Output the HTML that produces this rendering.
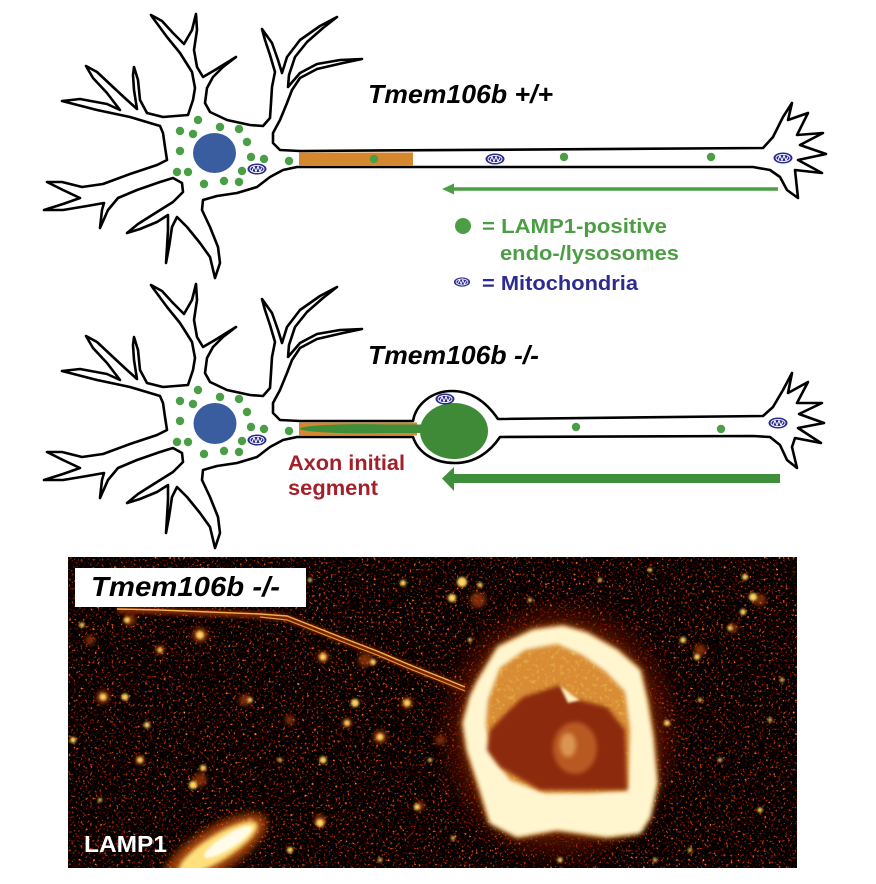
<!DOCTYPE html>
<html><head><meta charset="utf-8">
<style>
html,body{margin:0;padding:0;background:#fff;}
svg{display:block;}
.b{font-family:"Liberation Sans",Arial,sans-serif;font-weight:bold;}
.bi{font-family:"Liberation Sans",Arial,sans-serif;font-weight:bold;font-style:italic;}
</style></head>
<body>
<svg width="876" height="884" viewBox="0 0 876 884" xmlns="http://www.w3.org/2000/svg" xmlns:xlink="http://www.w3.org/1999/xlink">
<defs>
<path id="body" d="M300,167 L297,167 L283,170 L270,177 L257,187 L237,193 L217,196 L203,200 L202,210 L210,227 L218,247 L220,263 L215,278 L210,257 L200,243 L187,227 L177,217 L172,227 L169,247 L166,263 L167,247 L168,230 L168,215 L157,222 L140,229 L127,233 L138,224 L157,212 L173,202 L183,192 L182,183 L173,178 L160,182 L137,190 L118,198 L108,210 L100,228 L102,210 L104,203 L87,206 L63,210 L44,210 L63,204 L80,198 L63,190 L47,182 L62,182 L82,187 L103,184 L130,174 L157,165 L167,160 L165,147 L163,133 L160,126 L130,117 L97,110 L62,101 L80,99 L107,104 L120,110 L107,93 L93,78 L86,66 L97,72 L113,87 L127,100 L137,109 L134,90 L133,75 L134,67 L138,80 L140,100 L147,113 L163,117 L188,115 L193,100 L195,88 L192,72 L180,53 L167,37 L153,18 L151,15 L162,21 L173,33 L184,44 L192,30 L196,14 L197,30 L194,50 L197,67 L203,77 L215,70 L236,57 L223,67 L213,77 L207,88 L205,103 L210,112 L227,120 L250,125 L263,126 L270,118 L271,103 L272,87 L275,72 L270,55 L265,40 L262,29 L272,43 L278,60 L282,73 L287,57 L300,40 L320,26 L337,17 L323,28 L307,42 L295,57 L289,75 L288,87 L300,73 L317,64 L340,60 L362,59 L343,63 L317,69 L300,78 L292,90 L287,103 L280,120 L273,133 L273,143 L280,150 L300,151"/>
<g id="mito">
<ellipse rx="9.5" ry="5.5" fill="#2B2A8E"/>
<ellipse rx="7" ry="3.6" fill="none" stroke="#fff" stroke-width="0.9"/>
<path d="M-5,2 L-3,-2.5 L-1,2.5 L1,-2.5 L3,2.5 L5,-1.5" fill="none" stroke="#fff" stroke-width="1"/>
</g>
<g id="dots" fill="#4A9E46">
<circle cx="198" cy="120" r="4.2"/><circle cx="180" cy="131" r="4.2"/><circle cx="193" cy="134" r="4.2"/>
<circle cx="220" cy="127" r="4.2"/><circle cx="239" cy="129" r="4.2"/><circle cx="247" cy="142" r="4.2"/>
<circle cx="180" cy="151" r="4.2"/><circle cx="251" cy="157" r="4.2"/><circle cx="264" cy="159" r="4.2"/>
<circle cx="177" cy="172" r="4.2"/><circle cx="188" cy="172" r="4.2"/><circle cx="204" cy="184" r="4.2"/>
<circle cx="224" cy="181" r="4.2"/><circle cx="239" cy="182" r="4.2"/><circle cx="242" cy="171" r="4.2"/>
<circle cx="289" cy="161" r="4.2"/>
</g>
<clipPath id="imgclip"><rect x="68" y="557" width="729" height="311"/></clipPath>
<filter id="spk" x="0" y="0" width="1" height="1" color-interpolation-filters="sRGB">
<feTurbulence type="fractalNoise" baseFrequency="0.42" numOctaves="2" seed="7"/>
<feColorMatrix type="matrix" values="1 0 0 0 0  1 0 0 0 0  1 0 0 0 0  0 0 0 0 1"/>
<feComponentTransfer>
<feFuncR type="linear" slope="3.2" intercept="-1.72"/>
<feFuncG type="linear" slope="3" intercept="-1.95"/>
<feFuncB type="linear" slope="2" intercept="-1.45"/>
</feComponentTransfer>
</filter>
<filter id="spk2" x="0" y="0" width="1" height="1" color-interpolation-filters="sRGB">
<feTurbulence type="fractalNoise" baseFrequency="0.25" numOctaves="2" seed="11"/>
<feColorMatrix type="matrix" values="1 0 0 0 0  1 0 0 0 0  1 0 0 0 0  1 0 0 0 -0.35"/>
<feComponentTransfer>
<feFuncR type="linear" slope="2.5" intercept="-0.3"/>
<feFuncG type="linear" slope="2.5" intercept="-0.8"/>
<feFuncB type="linear" slope="1.5" intercept="-0.7"/>
</feComponentTransfer>
</filter>
<filter id="b1" x="-50%" y="-50%" width="200%" height="200%"><feGaussianBlur stdDeviation="1.2"/></filter>
<filter id="b2" x="-20%" y="-20%" width="140%" height="140%"><feGaussianBlur stdDeviation="2.2"/></filter>
<filter id="b4" x="-30%" y="-30%" width="160%" height="160%"><feGaussianBlur stdDeviation="4"/></filter>
<filter id="b12" x="-50%" y="-50%" width="200%" height="200%"><feGaussianBlur stdDeviation="12"/></filter>
<clipPath id="inner"><path d="M488,700 L500,668 L525,650 L557,644 L582,655 L606,672 L625,692 L630,730 L628,790 L590,793 L545,793 L510,780 L492,755 L486,725 Z"/></clipPath>
</defs>

<!-- ===== Neuron 1 ===== -->
<use xlink:href="#body" href="#body" fill="#fff" stroke="#000" stroke-width="2.6" stroke-linejoin="round"/>
<path d="M300,151 L763,148 L773,137 L783,117 L792,103 L788,120 L808,113 L797,135 L823,133 L800,145 L826,154 L798,160 L822,173 L795,170 L798,198 L787,190 L780,177 L770,170 L753,167 L300,167" fill="#fff" stroke="#000" stroke-width="2.6" stroke-linejoin="round"/>
<rect x="299" y="152.5" width="114" height="13.5" fill="#D4872E"/>
<circle cx="374" cy="159" r="4.2" fill="#4A9E46"/>
<ellipse cx="214.5" cy="153" rx="21.5" ry="20" fill="#3A5DA0"/>
<use xlink:href="#dots" href="#dots"/>
<use xlink:href="#mito" href="#mito" x="257" y="169"/>
<use xlink:href="#mito" href="#mito" x="495" y="159"/>
<circle cx="564" cy="157" r="4.2" fill="#4A9E46"/>
<circle cx="711" cy="157" r="4.2" fill="#4A9E46"/>
<use xlink:href="#mito" href="#mito" x="783" y="158"/>

<text class="bi" x="368" y="103" font-size="26" textLength="185" lengthAdjust="spacingAndGlyphs" fill="#000">Tmem106b +/+</text>

<!-- thin arrow -->
<line x1="778" y1="189" x2="452" y2="189" stroke="#4C9E45" stroke-width="3.5"/>
<polygon points="442,189 454,183.5 454,194.5" fill="#4C9E45"/>

<!-- legend -->
<circle cx="463" cy="226" r="8" fill="#4C9E45"/>
<text class="b" x="482" y="233" font-size="20" textLength="185" lengthAdjust="spacingAndGlyphs" fill="#4C9E45">= LAMP1-positive</text>
<text class="b" x="500" y="260" font-size="20" textLength="179" lengthAdjust="spacingAndGlyphs" fill="#4C9E45">endo-/lysosomes</text>
<g transform="translate(462,282) scale(0.85)"><use xlink:href="#mito" href="#mito"/></g>
<text class="b" x="482" y="290" font-size="20" textLength="156" lengthAdjust="spacingAndGlyphs" fill="#2D2B8E">= Mitochondria</text>

<!-- ===== Neuron 2 ===== -->
<g transform="translate(0,270)">
<use xlink:href="#body" href="#body" fill="#fff" stroke="#000" stroke-width="2.6" stroke-linejoin="round"/>
</g>
<path d="M300,421 L413,421 C416,404 432,391 452,391 C472,391 487,403 498,419 L763,416 L773,407 L783,390 L792,373 L788,393 L808,382 L797,403 L822,403 L799,414 L824,423 L798,428 L821,443 L795,438 L792,447 L797,468 L787,460 L780,445 L770,437 L753,436 L500,437 C490,452 475,463 455,463 C433,463 418,452 413,437 L300,437" fill="#fff" stroke="#000" stroke-width="2.6" stroke-linejoin="round"/>
<rect x="299" y="422.5" width="118" height="13" fill="#D4872E"/>
<ellipse cx="362" cy="428.7" rx="62" ry="4.6" fill="#3F8E3A"/>
<rect x="380" y="424.5" width="42" height="8.5" fill="#3F8E3A"/>
<ellipse cx="454" cy="431" rx="34" ry="28" fill="#3E8A36"/>
<ellipse cx="215" cy="423.5" rx="21.5" ry="20.5" fill="#3A5DA0"/>
<g transform="translate(0,270)"><use xlink:href="#dots" href="#dots"/></g>
<use xlink:href="#mito" href="#mito" x="257" y="440"/>
<use xlink:href="#mito" href="#mito" x="445" y="399"/>
<circle cx="576" cy="427" r="4.2" fill="#4A9E46"/>
<circle cx="721" cy="429" r="4.2" fill="#4A9E46"/>
<use xlink:href="#mito" href="#mito" x="778" y="423"/>

<text class="bi" x="368" y="364" font-size="26" textLength="171" lengthAdjust="spacingAndGlyphs" fill="#000">Tmem106b -/-</text>

<text class="b" x="288" y="470" font-size="21" textLength="117" lengthAdjust="spacingAndGlyphs" fill="#A3202A">Axon initial</text>
<text class="b" x="288" y="495" font-size="21" textLength="90" lengthAdjust="spacingAndGlyphs" fill="#A3202A">segment</text>

<!-- thick arrow -->
<rect x="452" y="474" width="328" height="9" fill="#3F8E3A"/>
<polygon points="442,478.5 454,467 454,491" fill="#3F8E3A"/>

<!-- ===== Microscopy image ===== -->
<g clip-path="url(#imgclip)">
<rect x="68" y="557" width="729" height="311" fill="#0e0200"/>
<rect x="68" y="557" width="729" height="311" filter="url(#spk)"/>
<!-- halo around cell -->
<ellipse cx="560" cy="732" rx="112" ry="122" fill="#6a1400" opacity="0.7" filter="url(#b12)"/>
<!-- dim orange blobs -->
<g filter="url(#b2)" fill="#A8400A" opacity="0.7">
<circle cx="200" cy="635" r="8"/><circle cx="103" cy="697" r="7"/><circle cx="323" cy="657" r="6"/>
<circle cx="407" cy="703" r="6"/><circle cx="380" cy="737" r="7"/><circle cx="347" cy="723" r="5"/>
<circle cx="130" cy="620" r="6"/><circle cx="245" cy="700" r="6"/><circle cx="140" cy="760" r="5"/>
<circle cx="478" cy="600" r="8"/><circle cx="700" cy="650" r="6"/><circle cx="733" cy="628" r="5"/>
<circle cx="365" cy="660" r="7"/><circle cx="200" cy="780" r="7"/><circle cx="320" cy="820" r="6"/>
<circle cx="420" cy="806" r="5"/><circle cx="760" cy="600" r="6"/><circle cx="160" cy="650" r="5"/>
<circle cx="90" cy="640" r="5"/><circle cx="290" cy="720" r="5"/><circle cx="440" cy="740" r="5"/>
</g>
<!-- bright dots -->
<g filter="url(#b1)" fill="#FFD560">
<circle cx="462" cy="582" r="5"/><circle cx="452" cy="598" r="4"/><circle cx="403" cy="583" r="3"/>
<circle cx="355" cy="703" r="4"/><circle cx="323" cy="760" r="3.5"/><circle cx="417" cy="807" r="3"/>
<circle cx="320" cy="823" r="4"/><circle cx="193" cy="785" r="4"/><circle cx="697" cy="657" r="3"/>
<circle cx="743" cy="612" r="3"/><circle cx="730" cy="628" r="2.5"/><circle cx="683" cy="640" r="3"/>
<circle cx="667" cy="723" r="3"/><circle cx="753" cy="597" r="4"/><circle cx="745" cy="577" r="3"/>
<circle cx="127" cy="620" r="3"/><circle cx="200" cy="635" r="4"/><circle cx="82" cy="625" r="2.5"/>
<circle cx="73" cy="740" r="3"/><circle cx="103" cy="697" r="3.5"/><circle cx="125" cy="697" r="3.5"/>
<circle cx="147" cy="725" r="3"/><circle cx="323" cy="657" r="3.5"/><circle cx="373" cy="662" r="3"/>
<circle cx="407" cy="703" r="3.5"/><circle cx="347" cy="723" r="3"/><circle cx="380" cy="737" r="3.5"/>
<circle cx="203" cy="768" r="3"/><circle cx="453" cy="838" r="2"/><circle cx="480" cy="585" r="2.5"/>
<circle cx="170" cy="570" r="2"/><circle cx="240" cy="585" r="2"/><circle cx="310" cy="580" r="2"/>
<circle cx="600" cy="580" r="2"/><circle cx="650" cy="570" r="2"/><circle cx="700" cy="700" r="2"/>
<circle cx="720" cy="760" r="2"/><circle cx="770" cy="720" r="2"/><circle cx="760" cy="810" r="2.5"/>
<circle cx="690" cy="850" r="2"/><circle cx="100" cy="800" r="2"/><circle cx="140" cy="760" r="3"/>
<circle cx="250" cy="700" r="2.5"/><circle cx="280" cy="760" r="2"/><circle cx="290" cy="850" r="3"/>
<circle cx="380" cy="860" r="2"/><circle cx="430" cy="760" r="2"/><circle cx="250" cy="820" r="2"/>
<circle cx="160" cy="650" r="2.5"/><circle cx="470" cy="640" r="2"/><circle cx="782" cy="680" r="2"/>
<circle cx="655" cy="860" r="2"/><circle cx="530" cy="600" r="2"/><circle cx="560" cy="860" r="2.5"/>
</g>
<!-- neurite -->
<path d="M117,610 L160,611 L210,613 L260,615 L287,618 L310,627 L343,640 L377,653 L410,667 L443,680 L465,689" fill="none" stroke="#8a2a00" stroke-width="6" filter="url(#b2)"/>
<path d="M117,609 L160,610 L210,612 L260,614 L287,616 L310,625 L343,638 L377,651 L410,665 L443,678 L465,687" fill="none" stroke="#F0B050" stroke-width="1.4"/>
<path d="M260,617 L287,620 L310,629 L343,642 L377,655 L410,669 L443,682 L465,691" fill="none" stroke="#E89838" stroke-width="1.2"/>
<!-- cell ring -->
<path d="M477,682 L498,647 L533,630 L563,626 L587,633 L617,650 L640,670 L647,700 L653,737 L657,783 L650,817 L640,833 L607,837 L557,830 L517,837 L490,823 L480,790 L467,750 L463,723 L470,697 Z" fill="#F0A030" filter="url(#b4)"/>
<path d="M477,682 L498,647 L533,630 L563,626 L587,633 L617,650 L640,670 L647,700 L653,737 L657,783 L650,817 L640,833 L607,837 L557,830 L517,837 L490,823 L480,790 L467,750 L463,723 L470,697 Z" fill="#FFF6D0" filter="url(#b2)"/>
<path d="M488,700 L500,668 L525,650 L557,644 L582,655 L606,672 L625,692 L630,730 L628,790 L590,793 L545,793 L510,780 L492,755 L486,725 Z" fill="#D88E38" filter="url(#b2)"/>
<g clip-path="url(#inner)">
<rect x="480" y="640" width="160" height="160" filter="url(#spk2)" opacity="0.5"/>
</g>
<path d="M490,730 L507,712 L523,697 L560,685 L567,697 L607,707 L625,730 L627,790 L583,790 L540,790 L500,767 L487,750 Z" fill="#8C2C0C" filter="url(#b2)"/>
<ellipse cx="575" cy="748" rx="22" ry="26" fill="#C8692A" opacity="0.75" filter="url(#b2)"/>
<ellipse cx="568" cy="745" rx="8" ry="12" fill="#F0C070" opacity="0.6" filter="url(#b2)"/>
<path d="M560,685 L572,695 L580,700 L568,703 Z" fill="#FFF0C0" filter="url(#b1)"/>
<!-- bottom-left streak -->
<ellipse cx="215" cy="850" rx="60" ry="22" fill="#C05010" opacity="0.8" transform="rotate(-32 215 850)" filter="url(#b4)"/>
<ellipse cx="218" cy="848" rx="46" ry="13" fill="#FFE07A" transform="rotate(-32 218 848)" filter="url(#b2)"/>
<ellipse cx="228" cy="842" rx="28" ry="7" fill="#FFFBE8" transform="rotate(-32 228 842)" filter="url(#b1)"/>
</g>
<!-- label box -->
<rect x="75" y="568" width="231" height="39" fill="#fff"/>
<text class="bi" x="91" y="596" font-size="28" textLength="189" lengthAdjust="spacingAndGlyphs" fill="#000">Tmem106b -/-</text>
<text class="b" x="84" y="852" font-size="23" textLength="83" lengthAdjust="spacingAndGlyphs" fill="#fff">LAMP1</text>
</svg>
</body></html>
